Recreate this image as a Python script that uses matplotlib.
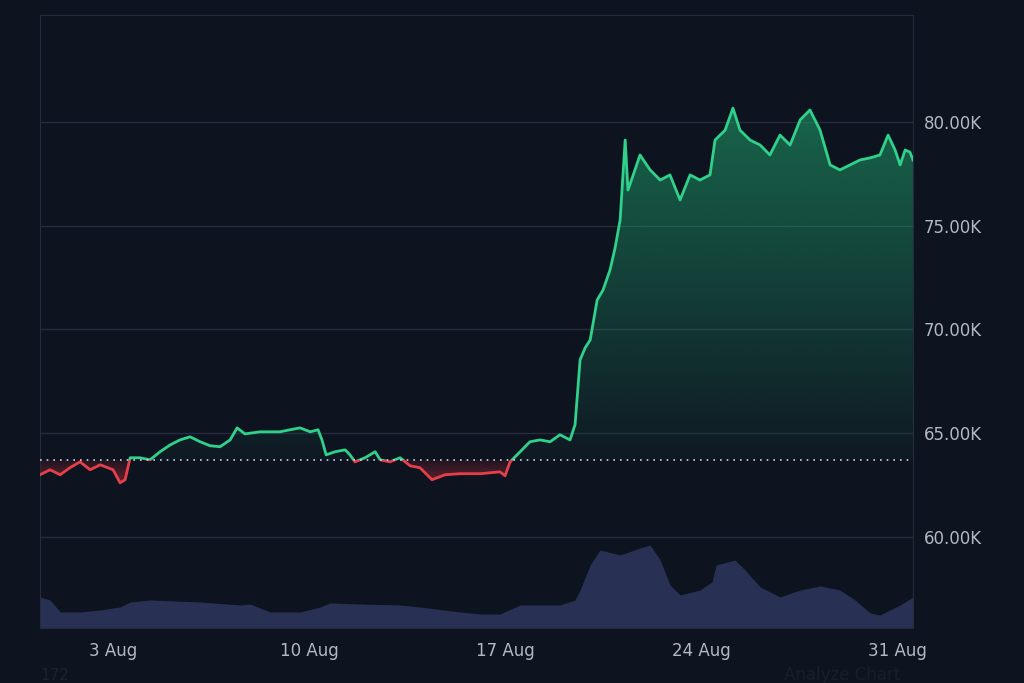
import numpy as np
import matplotlib.pyplot as plt
from matplotlib.patches import Rectangle, Polygon

# price in thousands, x = days since 1 Aug
days = [-0.61, -0.25, 0.11, 0.46, 0.82, 1.18, 1.54, 2.0, 2.25, 2.43, 2.61, 2.96, 3.32, 3.68,
        4.04, 4.39, 4.75, 5.11, 5.46, 5.82, 6.18, 6.43, 6.71, 7.25, 7.96, 8.32, 8.68, 9.04,
        9.32, 9.46, 9.61, 9.93, 10.29, 10.46, 10.64, 11.0, 11.36, 11.54, 11.89, 12.25, 12.61,
        12.96, 13.39, 13.86, 14.39, 15.11, 15.82, 16.0, 16.18, 16.54, 16.89, 17.25, 17.61,
        17.96, 18.32, 18.5, 18.68, 18.86, 19.04, 19.29, 19.5, 19.75, 19.93, 20.11, 20.29,
        20.39, 20.64, 20.82, 21.18, 21.54, 21.89, 22.25, 22.61, 22.96, 23.32, 23.5, 23.86,
        24.14, 24.39, 24.75, 25.11, 25.46, 25.82, 26.18, 26.54, 26.89, 27.25, 27.61, 27.96,
        28.32, 28.68, 29.04, 29.39, 29.68, 29.93, 30.11, 30.29, 30.46, 30.57]
price = [62.99, 63.23, 62.99, 63.33, 63.61, 63.23, 63.47, 63.23, 62.60, 62.75, 63.81, 63.81,
         63.71, 64.10, 64.43, 64.67, 64.82, 64.58, 64.39, 64.34, 64.67, 65.25, 64.96, 65.06,
         65.06, 65.16, 65.25, 65.06, 65.16, 64.67, 63.95, 64.10, 64.19, 63.95, 63.61, 63.81,
         64.10, 63.71, 63.61, 63.81, 63.42, 63.33, 62.75, 62.99, 63.04, 63.04, 63.13, 62.94,
         63.61, 64.10, 64.58, 64.67, 64.58, 64.92, 64.67, 65.40, 68.53, 69.11, 69.49, 71.42,
         71.90, 72.87, 73.93, 75.28, 79.13, 76.72, 77.69, 78.41, 77.69, 77.20, 77.45, 76.24,
         77.45, 77.20, 77.45, 79.13, 79.61, 80.67, 79.61, 79.13, 78.89, 78.41, 79.37, 78.89,
         80.10, 80.58, 79.61, 77.93, 77.69, 77.93, 78.17, 78.27, 78.41, 79.37, 78.65, 77.93,
         78.65, 78.55, 78.17]
baseline = 63.7

vol_days = [-0.61, -0.25, 0.11, 0.82, 1.54, 2.25, 2.61, 3.32, 5.11, 6.54, 6.89, 7.61, 8.68,
            9.39, 9.75, 10.82, 12.25, 12.96, 14.39, 15.11, 15.82, 16.54, 17.96, 18.5, 18.68,
            19.04, 19.39, 20.11, 20.82, 21.18, 21.54, 21.89, 22.25, 22.96, 23.39, 23.54, 24.21,
            24.57, 25.11, 25.82, 26.54, 27.25, 27.96, 28.5, 29.04, 29.39, 30.11, 30.57]
volume = [31, 28, 16, 16, 18, 21, 26, 28, 26, 23, 24, 16, 16, 21, 25, 24, 23, 21, 16, 14,
          14, 23, 23, 28, 38, 63, 78, 73, 80, 83, 68, 43, 33, 38, 46, 63, 68, 58, 41, 31,
          38, 42, 38, 28, 15, 13, 23, 31]

tick_days = [2, 9, 16, 23, 30]
tick_labels = ["3 Aug", "10 Aug", "17 Aug", "24 Aug", "31 Aug"]
price_ticks = [60, 65, 70, 75, 80]

BG = "#0e1320"
GRID = "#262c3b"
GREEN = "#2fd18b"
RED = "#e5404a"
TXT = "#b4b8c2"

fig = plt.figure(figsize=(10.24, 6.83), dpi=100, facecolor=BG)
ax = fig.add_axes([40/1024, 55/683, 873/1024, 613/683])
ax.set_facecolor(BG)
xmin, xmax = -0.61, 30.57
ymin, ymax = 55.6, 85.16

# volume on its own scale
axv = ax.twinx()
axv.set_ylim(0, 613)
axv.fill_between(vol_days, volume, 0, color="#283154", lw=0)
axv.set_yticks([])
axv.set_zorder(0)
ax.set_zorder(1)
ax.patch.set_visible(False)
axv.set_facecolor(BG)
for s in axv.spines.values():
    s.set_visible(False)

for p in price_ticks:
    ax.axhline(p, color=GRID, lw=1, zorder=0)

d = np.array(days)
v = np.array(price)


def grad_fill(yvals, color, top_alpha, bot_alpha, y0, y1):
    verts = np.vstack([np.column_stack([d, yvals]),
                       [[d[-1], baseline], [d[0], baseline]]])
    clip = Polygon(verts, closed=True, transform=ax.transData, facecolor="none", edgecolor="none")
    ax.add_patch(clip)
    rgba = np.zeros((256, 1, 4))
    rgba[..., :3] = plt.matplotlib.colors.to_rgb(color)
    rgba[..., 3] = np.linspace(top_alpha, bot_alpha, 256).reshape(-1, 1)
    im = ax.imshow(rgba, extent=[xmin, xmax, y0, y1], aspect="auto", origin="upper", zorder=1)
    im.set_clip_path(clip)


grad_fill(np.maximum(v, baseline), "#1f9e6a", 0.6, 0.05, baseline, 81)
grad_fill(np.minimum(v, baseline), "#c0303a", 0.1, 0.55, 62.4, baseline)

ax.set_xlim(xmin, xmax)
ax.set_ylim(ymin, ymax)

gl, = ax.plot(d, v, color=GREEN, lw=2, zorder=3)
gl.set_clip_path(Rectangle((xmin, baseline), xmax - xmin, ymax - baseline, transform=ax.transData))
rl, = ax.plot(d, v, color=RED, lw=2, zorder=3)
rl.set_clip_path(Rectangle((xmin, ymin), xmax - xmin, baseline - ymin, transform=ax.transData))

ax.axhline(baseline, color="#d0d4dc", lw=1.2, ls=(0, (1, 3)), zorder=4)

ax.yaxis.tick_right()
ax.set_yticks(price_ticks)
ax.set_yticklabels([f"{p:.2f}K" for p in price_ticks])
ax.set_xticks(tick_days)
ax.set_xticklabels(tick_labels)
ax.tick_params(colors=TXT, labelsize=12, length=0, pad=10)
ax.tick_params(axis="y", pad=8)
for s in ax.spines.values():
    s.set_color(GRID)

fig.text(40/1024, 3/683, "172", color="#1e222c", fontsize=11)
fig.text(784/1024, 3/683, "Analyze Chart", color="#1a1e28", fontsize=12)

fig.savefig("out.png", facecolor=BG)
